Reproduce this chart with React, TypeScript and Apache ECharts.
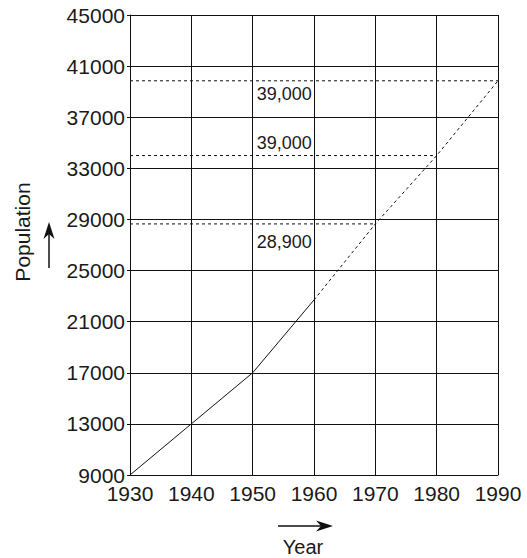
import React, { useEffect, useRef } from "react";
import * as echarts from "echarts";

const yearTicks = [1930, 1940, 1950, 1960, 1970, 1980, 1990];
const populationTicks = [9000, 13000, 17000, 21000, 25000, 29000, 33000, 37000, 41000, 45000];

// Recorded (solid) part of the curve
const solidYears = [1930, 1940, 1950, 1960];
const solidValues = [9000, 13000, 17000, 22700];

// Projected (dashed) part of the curve
const projYears = [1960, 1970, 1980, 1990];
const projValues = [22700, 28650, 34000, 39850];

// Horizontal read-off guides
const guideEndYears = [1990, 1980, 1970];
const guideValues = [39850, 34000, 28650];

// Annotation texts and their anchors (year, population)
const noteTexts = ["39,000", "39,000", "28,900"];
const noteYears = [1950, 1950, 1950];
const noteValues = [38800, 35000, 27250];

const FONT = "'Liberation Sans', Arial, Helvetica, sans-serif";
const TXT = "#1a1a1a";

export default function App() {
  const ref = useRef<HTMLDivElement>(null);

  useEffect(() => {
    if (!ref.current) return;
    const chart = echarts.init(ref.current, undefined, { renderer: "svg" });

    const guideSeries = guideValues.map((v, i) => ({
      type: "line",
      data: [
        [yearTicks[0], v],
        [guideEndYears[i], v],
      ],
      symbol: "none",
      silent: true,
      lineStyle: { color: "#111", width: 1, type: [3, 3] },
      z: 3,
    }));

    chart.setOption({
      animation: false,
      grid: { left: 130, right: 29, top: 15, bottom: 83 },
      xAxis: {
        type: "value",
        min: yearTicks[0],
        max: yearTicks[yearTicks.length - 1],
        interval: 10,
        axisLine: { show: true, lineStyle: { color: "#111", width: 1 } },
        axisTick: { show: false },
        axisLabel: {
          color: TXT,
          fontSize: 21,
          fontFamily: FONT,
          margin: 8,
          formatter: (v: number) => String(v),
        },
        splitLine: { show: true, lineStyle: { color: "#111", width: 1 } },
      },
      yAxis: {
        type: "value",
        min: populationTicks[0],
        max: populationTicks[populationTicks.length - 1],
        interval: 4000,
        axisLine: { show: true, lineStyle: { color: "#111", width: 1 } },
        axisTick: { show: true, length: 3, lineStyle: { color: "#111" } },
        axisLabel: {
          color: TXT,
          fontSize: 21,
          fontFamily: FONT,
          margin: 5,
          formatter: (v: number) => String(v),
        },
        splitLine: { show: true, lineStyle: { color: "#111", width: 1 } },
      },
      series: [
        {
          type: "line",
          data: solidYears.map((y, i) => [y, solidValues[i]]),
          symbol: "none",
          lineStyle: { color: "#111", width: 1 },
          z: 4,
        },
        {
          type: "line",
          data: projYears.map((y, i) => [y, projValues[i]]),
          symbol: "none",
          lineStyle: { color: "#111", width: 1, type: [3, 3] },
          z: 4,
        },
        ...guideSeries,
        {
          type: "scatter",
          data: noteYears.map((y, i) => ({ value: [y, noteValues[i]], name: noteTexts[i] })),
          symbolSize: 0,
          silent: true,
          itemStyle: { color: "#000", opacity: 1 },
          label: {
            show: true,
            position: "right",
            distance: 4,
            formatter: (p: any) => p.name,
            color: TXT,
            opacity: 1,
            fontSize: 18,
            fontFamily: FONT,
          },
          z: 5,
        },
      ],
      graphic: [
        {
          type: "text",
          x: 22,
          y: 232,
          rotation: Math.PI / 2,
          style: {
            text: "Population",
            fill: TXT,
            font: `21px ${FONT}`,
            textAlign: "center",
            textVerticalAlign: "middle",
          },
        },
        {
          type: "line",
          shape: { x1: 49, y1: 268, x2: 49, y2: 232 },
          style: { stroke: "#111", lineWidth: 1.5 },
        },
        {
          type: "polygon",
          shape: { points: [[49, 222], [43.5, 239], [49, 234], [54.5, 239]] },
          style: { fill: "#111" },
        },
        {
          type: "line",
          shape: { x1: 278, y1: 526, x2: 323, y2: 526 },
          style: { stroke: "#111", lineWidth: 1.5 },
        },
        {
          type: "polygon",
          shape: { points: [[333, 526], [316, 520.5], [321, 526], [316, 531.5]] },
          style: { fill: "#111" },
        },
        {
          type: "text",
          x: 303,
          y: 547,
          style: {
            text: "Year",
            fill: TXT,
            font: `20px ${FONT}`,
            textAlign: "center",
            textVerticalAlign: "middle",
          },
        },
      ],
    });

    return () => chart.dispose();
  }, []);

  return (
    <div
      ref={ref}
      style={{ position: "fixed", left: 0, top: 0, width: 527, height: 558, background: "#fff" }}
    />
  );
}
